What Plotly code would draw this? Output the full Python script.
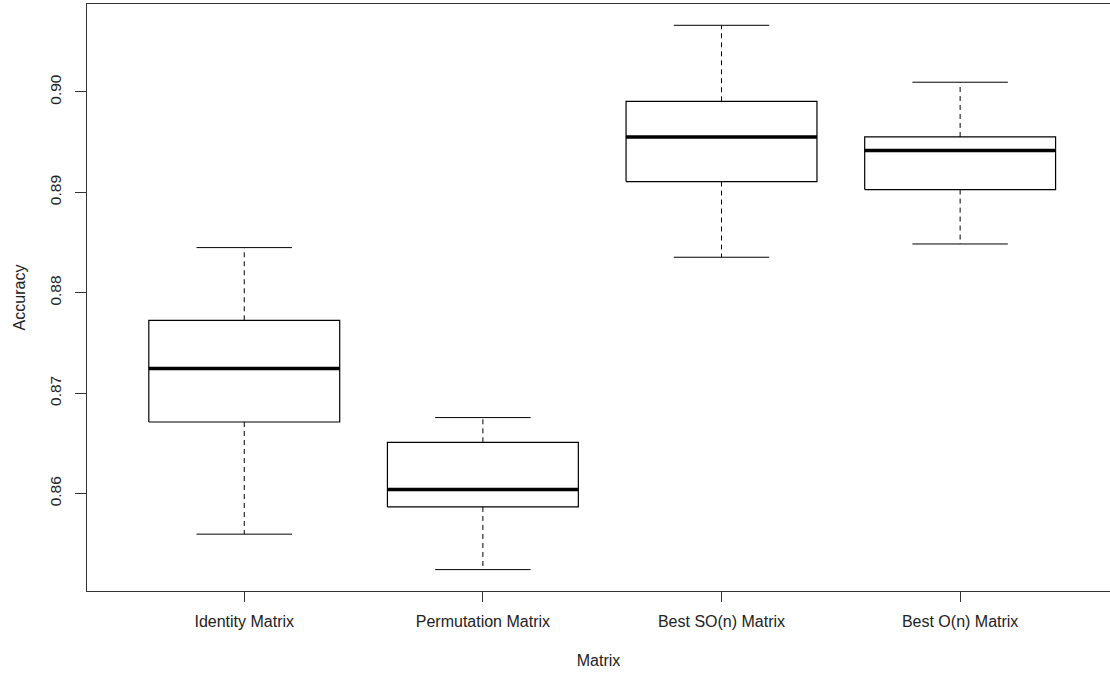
import plotly.graph_objects as go

categories = ["Identity Matrix", "Permutation Matrix", "Best SO(n) Matrix", "Best O(n) Matrix"]
lower = [0.85596, 0.85243, 0.88354, 0.88486]
q1 = [0.86713, 0.85867, 0.89108, 0.89028]
median = [0.87245, 0.86040, 0.89552, 0.89416]
q3 = [0.87726, 0.86511, 0.89907, 0.89552]
upper = [0.88450, 0.86757, 0.90664, 0.90097]
y_ticks = [0.86, 0.87, 0.88, 0.89, 0.90]

fig = go.Figure()
hw = 0.4
cw = 0.2
for i, c in enumerate(categories):
    x = i + 1
    # whiskers (dashed)
    fig.add_trace(go.Scatter(
        x=[x, x, None, x, x], y=[q3[i], upper[i], None, q1[i], lower[i]],
        mode="lines", line=dict(color="black", width=1, dash="5px,4px"),
        showlegend=False, hoverinfo="skip"))
    # caps
    fig.add_trace(go.Scatter(
        x=[x - cw, x + cw, None, x - cw, x + cw],
        y=[upper[i], upper[i], None, lower[i], lower[i]],
        mode="lines", line=dict(color="black", width=1),
        showlegend=False, hoverinfo="skip"))
    # box
    fig.add_trace(go.Scatter(
        x=[x - hw, x + hw, x + hw, x - hw, x - hw],
        y=[q1[i], q1[i], q3[i], q3[i], q1[i]],
        mode="lines", line=dict(color="black", width=1.2),
        showlegend=False, hoverinfo="skip"))
    # median
    fig.add_trace(go.Scatter(
        x=[x - hw, x + hw], y=[median[i], median[i]],
        mode="lines", line=dict(color="black", width=3.5),
        showlegend=False, hoverinfo="skip"))

font = dict(family="Liberation Sans, Arial, sans-serif", size=16, color="#222")
fig.update_layout(
    width=1110, height=673,
    margin=dict(l=87, r=0, t=4, b=82),
    paper_bgcolor="white", plot_bgcolor="white",
    font=font,
    xaxis=dict(
        range=[0.341, 4.628], tickvals=[1, 2, 3, 4], ticktext=categories,
        showgrid=False, zeroline=False, showline=True, mirror=True,
        linecolor="#333", linewidth=1, ticks="outside", ticklen=10,
        tickcolor="#333", ticklabelstandoff=6,
        tickfont=dict(size=16),
        title=dict(text="Matrix", standoff=25, font=font),
    ),
    yaxis=dict(
        range=[0.85030, 0.90876], tickvals=y_ticks,
        ticktext=["0.86", "0.87", "0.88", "0.89", "0.90"],
        tickangle=-90,
        showgrid=False, zeroline=False, showline=True, mirror=False,
        linecolor="#333", linewidth=1, ticks="outside", ticklen=11,
        tickcolor="#333", ticklabelstandoff=8,
        tickfont=dict(size=15.5),
        title=dict(text="Accuracy", standoff=17, font=font),
    ),
)
fig.write_html("out.html", config={"displayModeBar": False},
               post_script="document.body.style.margin='0';document.body.style.overflow='hidden';")
